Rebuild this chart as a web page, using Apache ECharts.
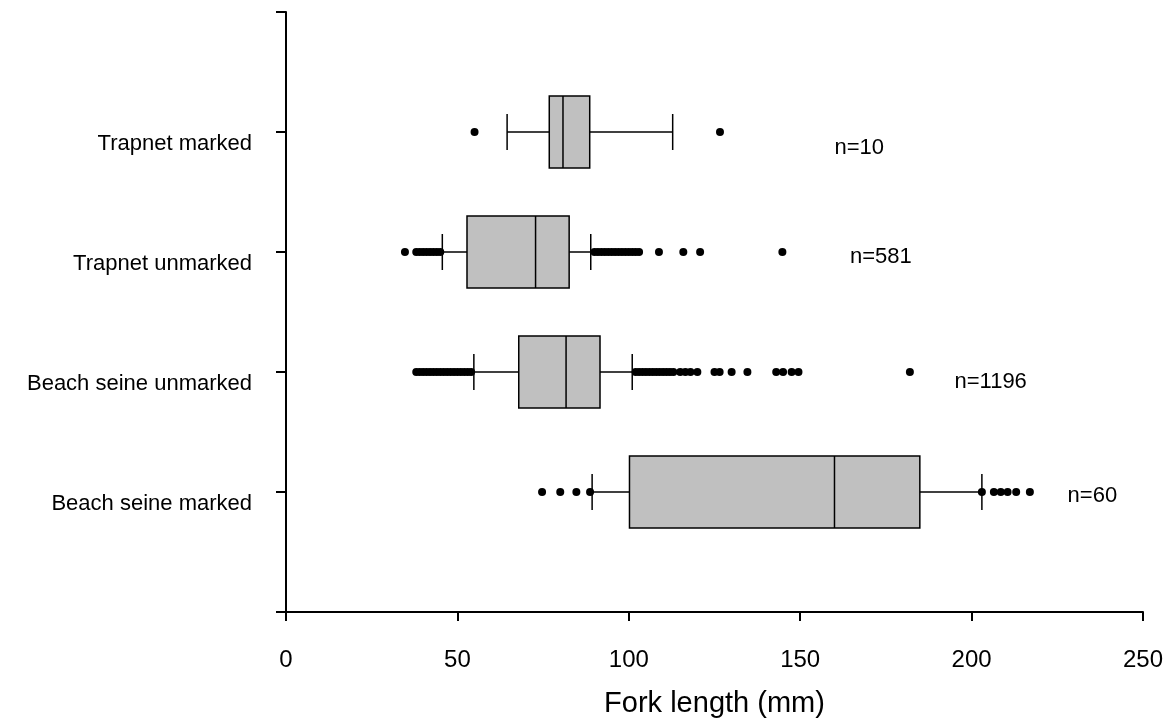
<!DOCTYPE html>
<html>
<head>
<meta charset="utf-8">
<script src="https://cdn.jsdelivr.net/npm/echarts@6/dist/echarts.min.js"></script>
<style>
  html, body { margin: 0; padding: 0; background: #fff; }
  #chart { width: 1172px; height: 721px; }
</style>
</head>
<body>
<div id="chart"></div>
<script>
// groups, bottom to top (position on the y axis = index + 1)
var groups = ['Beach seine marked', 'Beach seine unmarked', 'Trapnet unmarked', 'Trapnet marked'];

// whisker low, Q1, median, Q3, whisker high (mm)
var boxStats = [
  [89.3, 100.2, 160.0, 184.9, 203.0],
  [54.8, 67.9, 81.7, 91.6, 101.0],
  [45.6, 52.8, 72.8, 82.6, 88.9],
  [64.5, 76.8, 80.8, 88.6, 112.8]
];

// outlying fish, one list per group
var outliers = [
  [74.7, 80, 84.7, 88.7, 203, 206.5, 208.5, 210.5, 213, 217],
  [38, 39, 40, 41, 42, 43, 44, 45, 46, 47, 48, 49, 50, 51, 52, 53, 54,
   102, 103, 104, 105, 106, 107, 108, 109, 110, 111, 112, 113, 115, 116.5, 118, 120,
   125, 126.5, 130, 134.6, 143, 145, 147.5, 149.5, 182],
  [34.7, 38, 39, 40, 41, 42, 43, 44, 45,
   90, 91, 92, 93, 94, 95, 96, 97, 98, 99, 100, 101, 102, 103, 108.8, 115.9, 120.8, 144.8],
  [55, 126.6]
];

// sample sizes and where their labels sit
var nText = ['n=60', 'n=1196', 'n=581', 'n=10'];
var nLabelX = [228, 195, 164.5, 160];
var nLabelY = [0.967, 1.917, 2.958, 3.867];

var xTicks = [0, 50, 100, 150, 200, 250];

var boxData = boxStats.map(function (s, i) { return [i + 1].concat(s); });
var dotData = [];
outliers.forEach(function (list, i) {
  list.forEach(function (v) { dotData.push([v, i + 1]); });
});
var nData = nText.map(function (t, i) { return { value: [nLabelX[i], nLabelY[i]], name: t }; });

var font = 'Liberation Sans, Arial, sans-serif';

function renderBox(params, api) {
  var pos = api.value(0);
  var lo = api.coord([api.value(1), pos]);
  var q1 = api.coord([api.value(2), pos]);
  var med = api.coord([api.value(3), pos]);
  var q3 = api.coord([api.value(4), pos]);
  var hi = api.coord([api.value(5), pos]);
  var half = api.size([0, 0.3])[1];
  var cap = api.size([0, 0.15])[1];
  var y = lo[1];
  var ln = { stroke: '#000', lineWidth: 1.5 };
  return {
    type: 'group',
    children: [
      { type: 'line', shape: { x1: lo[0], y1: y, x2: q1[0], y2: y }, style: ln },
      { type: 'line', shape: { x1: q3[0], y1: y, x2: hi[0], y2: y }, style: ln },
      { type: 'line', shape: { x1: lo[0], y1: y - cap, x2: lo[0], y2: y + cap }, style: ln },
      { type: 'line', shape: { x1: hi[0], y1: y - cap, x2: hi[0], y2: y + cap }, style: ln },
      { type: 'rect', shape: { x: q1[0], y: y - half, width: q3[0] - q1[0], height: half * 2 },
        style: { fill: '#c0c0c0', stroke: '#000', lineWidth: 1.5 } },
      { type: 'line', shape: { x1: med[0], y1: y - half, x2: med[0], y2: y + half }, style: ln }
    ]
  };
}

var myChart = echarts.init(document.getElementById('chart'));

var option = {
  animation: false,
  backgroundColor: '#fff',
  grid: { left: 286, right: 29, top: 12, bottom: 109, outerBoundsMode: 'none' },
  xAxis: {
    type: 'value',
    min: xTicks[0],
    max: xTicks[xTicks.length - 1],
    interval: 50,
    name: 'Fork length (mm)',
    nameLocation: 'middle',
    nameGap: 77,
    nameTextStyle: { fontFamily: font, fontSize: 29, color: '#000' },
    axisLine: { lineStyle: { color: '#000', width: 2 } },
    axisTick: { inside: false, length: 9, lineStyle: { color: '#000', width: 2 } },
    axisLabel: { fontFamily: font, fontSize: 24, color: '#000', margin: 36 },
    splitLine: { show: false }
  },
  yAxis: {
    type: 'value',
    min: 0,
    max: 5,
    interval: 1,
    axisLine: { show: true, lineStyle: { color: '#000', width: 2 } },
    axisTick: { show: true, inside: false, length: 10, lineStyle: { color: '#000', width: 2 } },
    axisLabel: {
      fontFamily: font, fontSize: 22, color: '#000', margin: 34,
      verticalAlign: 'top',
      padding: [1, 0, 0, 0],
      formatter: function (v) { return groups[v - 1] || ''; }
    },
    splitLine: { show: false }
  },
  series: [
    {
      type: 'custom',
      renderItem: renderBox,
      data: boxData,
      encode: { x: [1, 2, 3, 4, 5], y: 0 },
      z: 2
    },
    {
      type: 'scatter',
      data: dotData,
      symbol: 'circle',
      symbolSize: 8,
      itemStyle: { color: '#000', opacity: 1 },
      z: 3
    },
    {
      type: 'scatter',
      data: nData,
      symbolSize: 0,
      itemStyle: { opacity: 1 },
      label: {
        show: true,
        position: 'right',
        distance: 0,
        formatter: '{b}',
        fontFamily: font,
        fontSize: 22,
        color: '#000'
      },
      z: 4
    }
  ]
};

myChart.setOption(option);
</script>
</body>
</html>
